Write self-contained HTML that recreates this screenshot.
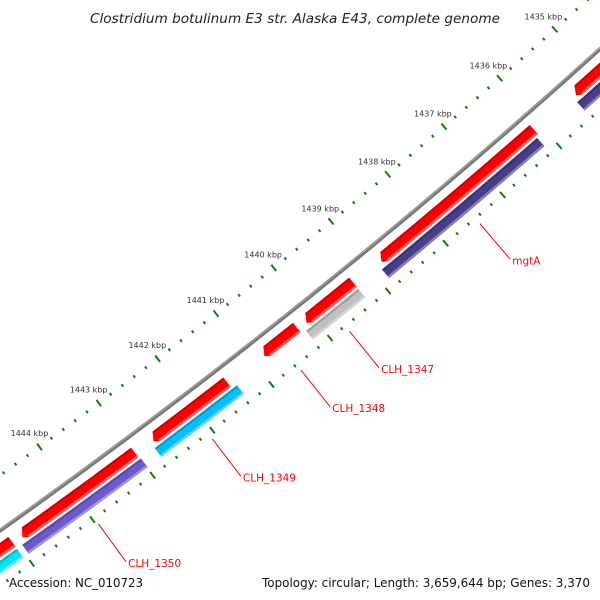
<!DOCTYPE html>
<html><head><meta charset="utf-8"><style>
html,body{margin:0;padding:0;background:#fff}
svg{display:block}
</style></head><body>
<svg id="map" width="600" height="600" viewBox="0 0 600 600" xmlns="http://www.w3.org/2000/svg">
<rect width="600" height="600" fill="#fff"/>
<g id="ticks"></g>
<g id="backbone"></g>
<g id="feats"></g>
<g id="labels"></g>
<text x="295" y="23" text-anchor="middle" font-family="DejaVu Sans, sans-serif" font-style="italic" font-size="13" fill="#222" textLength="410" lengthAdjust="spacingAndGlyphs">Clostridium botulinum E3 str. Alaska E43, complete genome</text>
<text x="9" y="587" font-family="DejaVu Sans, sans-serif" font-size="12" fill="#111" textLength="134" lengthAdjust="spacingAndGlyphs">Accession: NC_010723</text>
<text x="262" y="587" font-family="DejaVu Sans, sans-serif" font-size="12" fill="#111" textLength="328" lengthAdjust="spacingAndGlyphs">Topology: circular; Length: 3,659,644 bp; Genes: 3,370</text>
</svg>
<script>
// data (kbp)
const tickFirst = 1434;
const tickLast = 1446;
const majorLabels = [1435,1436,1437,1438,1439,1440,1441,1442,1443,1444];
const fwdStart = [1434.3,1436.11,1439.29,1440.26,1441.45,1443.01,1445.05];
const fwdEnd   = [1435.38,1438.82,1440.12,1440.84,1442.72,1444.90,1446.5];
const lowStart = [1434.3,1436.15,1439.29,1441.37,1442.99,1445.05];
const lowEnd   = [1435.43,1438.88,1440.19,1442.76,1444.96,1446.5];
const lowColor = ['#483d8b','#483d8b','#c0c0c0','#00bfff','#6a5acd','#00e5ee'];
const geneNames = ['mgtA','CLH_1347','CLH_1348','CLH_1349','CLH_1350'];
const geneKbp = [1437.48,1439.74,1440.57,1442.07,1443.97];

// geometry
const CX=-3762, CY=-4770, R=6500;
const A0=48.03, DEG_PER_KBP=0.6544;
const NS='http://www.w3.org/2000/svg';
function ang(k){return (A0+(k-1435)*DEG_PER_KBP)*Math.PI/180;}
function pt(k,d){const a=ang(k);return [CX+(R+d)*Math.cos(a), CY+(R+d)*Math.sin(a)];}
function el(tag,attrs,parent){const e=document.createElementNS(NS,tag);for(const k in attrs)e.setAttribute(k,attrs[k]);parent.appendChild(e);return e;}
function arcPath(k1,k2,d){const p1=pt(k1,d),p2=pt(k2,d);return `M${p1[0].toFixed(2)},${p1[1].toFixed(2)} A${R+d},${R+d} 0 0 1 ${p2[0].toFixed(2)},${p2[1].toFixed(2)}`;}

// ticks
const tg=document.getElementById('ticks');
for(let i=Math.round(tickFirst*5);i<=Math.round(tickLast*5);i++){
  const k=i/5, major=(i%5===0);
  [-45,45].forEach(function(dc){
    const h=major?4:1.5;
    const a=pt(k,dc-h),b=pt(k,dc+h);
    const l=el('line',{x1:a[0],y1:a[1],x2:b[0],y2:b[1],stroke:'#0a800a','stroke-width':2},tg);
    
    
  });
}
majorLabels.forEach(function(k){
  const p=pt(k,-62);
  const t=el('text',{x:p[0],y:p[1]+3,'text-anchor':'middle','font-family':'DejaVu Sans, sans-serif','font-size':'8',fill:'#333'},tg);
  t.textContent=k+' kbp';
  
  
});

// backbone
const bg=document.getElementById('backbone');
let b1=el('path',{d:arcPath(1433,1447,0),stroke:'#7a7a7a','stroke-width':4,fill:'none'},bg);


let b2=el('path',{d:arcPath(1433,1447,-1),stroke:'#a8a8a8','stroke-width':1,fill:'none'},bg);



// features
const fg=document.getElementById('feats');
function shade(hex,f){const n=parseInt(hex.slice(1),16);let r=n>>16,g=(n>>8)&255,b=n&255;
  if(f>0){r+=(255-r)*f;g+=(255-g)*f;b+=(255-b)*f;}else{r*=1+f;g*=1+f;b*=1+f;}
  return 'rgb('+Math.round(r)+','+Math.round(g)+','+Math.round(b)+')';}
function band(k1,k2,dc,w,color,arrow,name){
  const g=el('g',{},fg);
  
  
  const d1=dc-w/2,d2=dc+w/2;
  const tip=arrow?0.07:0;
  const kk=k2-tip;
  const p=[pt(k1,d1),pt(kk,d1)];
  let d=`M${p[0][0]},${p[0][1]} A${R+d1},${R+d1} 0 0 1 ${p[1][0]},${p[1][1]}`;
  if(arrow){const t=pt(k2,dc+w*0.2),e=pt(kk,d2);d+=` L${t[0]},${t[1]} L${e[0]},${e[1]}`;}
  else{const e=pt(k2,d2);const c=pt(k2,d1);d+=` L${e[0]},${e[1]}`;}
  const s=pt(k1,d2);
  const endK=arrow?kk:k2;
  const e2=pt(endK,d2);
  d+=` A${R+d2},${R+d2} 0 0 0 ${s[0]},${s[1]} Z`;
  el('path',{d:d,fill:color},g);
  el('path',{d:arcPath(k1+0.01,kk,d1+1),stroke:shade(color,-0.2),'stroke-width':2,fill:'none'},g);
  el('path',{d:arcPath(k1+0.01,kk,d2-1.2),stroke:shade(color,0.35),'stroke-width':2.4,fill:'none'},g);
}
for(let i=0;i<fwdStart.length;i++) band(fwdStart[i],fwdEnd[i],16,12,'#ff0000',true,'forward-gene');
for(let i=0;i<lowStart.length;i++) band(lowStart[i],lowEnd[i],30,11,lowColor[i],false,'cog-feature');

// gene labels
const lg=document.getElementById('labels');
for(let i=0;i<geneNames.length;i++){
  const a=pt(geneKbp[i],52),b=pt(geneKbp[i],99);
  const l=el('line',{x1:a[0],y1:a[1],x2:b[0],y2:b[1],stroke:'#ff0000','stroke-width':1},lg);
  
  
  const t=el('text',{x:b[0]+2,y:b[1]+5,'font-family':'DejaVu Sans, sans-serif','font-size':'10.5',fill:'#ff0000'},lg);
  t.textContent=geneNames[i];
  
  
}
</script>
</body></html>
